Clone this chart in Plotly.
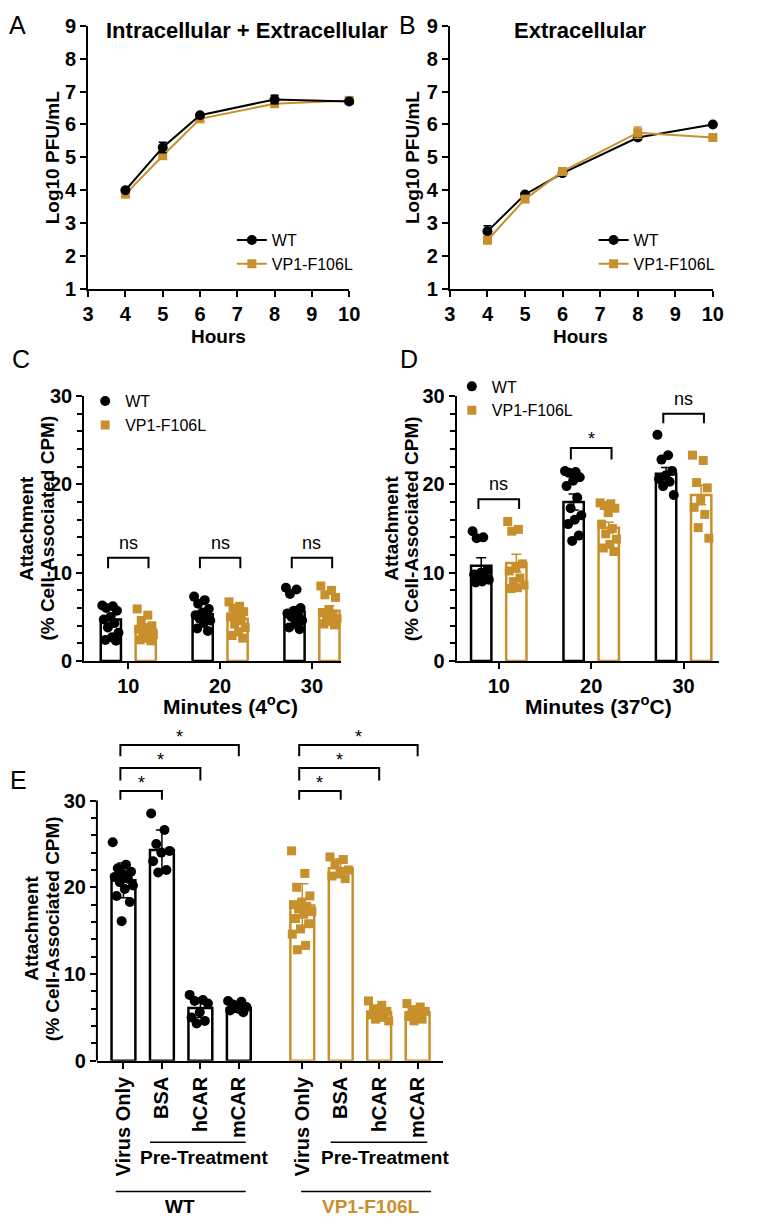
import plotly.graph_objects as go

W, H = 762, 1225
FONT = "Liberation Sans, Arial, Helvetica, sans-serif"
BLACK = "#000000"
GOLD = "#C8902C"

# ---------------- data ----------------
hours = [4, 5, 6, 8, 10]
a_wt = [4.0, 5.3, 6.28, 6.76, 6.7]
a_wt_err = [0.05, 0.16, 0.05, 0.13, 0.04]
a_mut = [3.88, 5.05, 6.17, 6.63, 6.73]
a_mut_err = [0.05, 0.08, 0.05, 0.05, 0.08]

b_wt = [2.75, 3.87, 4.52, 5.6, 6.0]
b_wt_err = [0.17, 0.05, 0.05, 0.05, 0.03]
b_mut = [2.48, 3.73, 4.57, 5.75, 5.6]
b_mut_err = [0.1, 0.05, 0.07, 0.17, 0.05]

minutes = ["10", "20", "30"]

c_wt_mean = [4.7, 5.3, 5.6]
c_wt_sem = [0.4, 0.3, 0.4]
c_mut_mean = [3.6, 4.8, 5.7]
c_mut_sem = [0.3, 0.4, 0.55]
c_wt_pts = [
    [6.3, 6.2, 6.0, 5.7, 5.0, 4.7, 4.3, 3.8, 3.2, 2.7, 2.4, 2.3],
    [7.3, 6.9, 6.5, 5.9, 5.5, 5.2, 5.0, 4.8, 4.6, 4.3, 3.7, 3.4],
    [8.3, 8.1, 7.6, 6.0, 5.7, 5.4, 5.2, 5.0, 4.6, 4.2, 3.8, 3.6],
]
c_mut_pts = [
    [5.9, 5.2, 4.6, 4.0, 3.8, 3.6, 3.5, 3.3, 3.0, 2.6, 2.4, 2.3],
    [6.7, 6.2, 6.0, 5.6, 5.3, 5.0, 4.6, 4.2, 3.8, 3.3, 2.9, 2.6],
    [8.5, 8.0, 7.5, 7.2, 5.8, 5.5, 5.3, 5.0, 4.8, 4.5, 4.2, 4.1],
]

d_wt_mean = [10.8, 18.0, 21.2]
d_wt_sem = [0.9, 0.9, 0.7]
d_mut_mean = [11.1, 15.1, 18.8]
d_mut_sem = [1.0, 0.6, 1.1]
d_wt_pts = [
    [14.7, 14.0, 13.9, 10.3, 10.0, 9.8, 9.6, 9.4, 9.2, 9.0, 8.9],
    [21.5, 21.4, 21.3, 20.8, 20.4, 19.8, 18.5, 17.3, 16.5, 16.0, 15.5, 14.2, 13.6],
    [25.6, 23.3, 22.8, 21.5, 21.0, 20.6, 20.3, 19.8, 18.8],
]
d_mut_pts = [
    [15.8, 14.9, 14.7, 11.0, 10.5, 10.2, 9.4, 9.0, 8.6, 8.3, 8.2],
    [17.9, 17.8, 17.6, 17.3, 16.8, 15.5, 15.0, 14.4, 13.8, 13.2, 12.8, 12.4],
    [23.3, 22.7, 20.2, 19.6, 18.3, 17.4, 16.6, 15.1, 13.9],
]

e_labels = ["Virus Only", "BSA", "hCAR", "mCAR"]
e_wt_mean = [20.8, 24.3, 6.1, 6.1]
e_wt_sd = [2.0, 2.3, 1.1, 0.5]
e_mut_mean = [17.9, 22.2, 5.6, 5.6]
e_mut_sd = [2.5, 1.1, 0.6, 0.6]
e_wt_pts = [
    [25.2, 22.6, 22.2, 21.8, 21.5, 21.2, 21.0, 20.6, 20.2, 19.8, 19.0, 18.3, 16.1],
    [28.5, 26.6, 25.0, 24.2, 24.0, 23.0, 22.0, 21.7],
    [7.6, 7.0, 6.9, 6.6, 5.6, 5.0, 4.6, 4.3],
    [6.9, 6.8, 6.5, 6.2, 6.0, 5.8, 5.6],
]
e_mut_pts = [
    [24.2, 21.6, 20.0, 19.0, 18.3, 18.0, 17.8, 17.5, 17.2, 16.9, 16.4, 15.8, 15.2, 14.6, 13.3, 12.8],
    [23.5, 23.2, 22.7, 22.0, 21.6, 21.3, 21.0],
    [6.9, 6.4, 6.0, 5.7, 5.5, 5.3, 5.0, 4.8, 4.6],
    [6.6, 6.2, 5.9, 5.7, 5.4, 5.1, 4.8, 4.6],
]

# ---------------- helpers (layout only) ----------------
def px(x):
    return x / W


def py(y):
    return 1 - y / H


def jitter(n, width):
    return [((k * 0.618034) % 1.0 - 0.5) * width for k in range(n)]


fig = go.Figure()

# ---------------- A & B : growth curves ----------------
for (wt, wte, mut, mute, xa, ya, lg, wt_last) in [
    (a_wt, a_wt_err, a_mut, a_mut_err, "x", "y", "legend", True),
    (b_wt, b_wt_err, b_mut, b_mut_err, "x2", "y2", "legend2", False),
]:
    wt_tr = go.Scatter(
        x=hours, y=wt, name="WT", mode="lines+markers",
        marker=dict(symbol="circle", size=10, color=BLACK),
        line=dict(color=BLACK, width=2),
        error_y=dict(type="data", array=wte, color=BLACK, thickness=1.5, width=4),
        xaxis=xa, yaxis=ya, legend=lg, legendrank=1, legendgroup="wt" + xa,
        cliponaxis=False,
    )
    mut_tr = go.Scatter(
        x=hours, y=mut, name="VP1-F106L", mode="lines+markers",
        marker=dict(symbol="square", size=9, color=GOLD),
        line=dict(color=GOLD, width=2),
        error_y=dict(type="data", array=mute, color=GOLD, thickness=1.5, width=4),
        xaxis=xa, yaxis=ya, legend=lg, legendrank=2, legendgroup="mut" + xa,
        cliponaxis=False,
    )
    if wt_last:
        fig.add_trace(mut_tr)
        fig.add_trace(wt_tr)
    else:
        fig.add_trace(wt_tr)
        fig.add_trace(mut_tr)

# ---------------- C & D : attachment time course ----------------
OFF = 0.19
BW = 0.22
for (wm, ws, mm, ms, wp, mp, xa, ya, lg) in [
    (c_wt_mean, c_wt_sem, c_mut_mean, c_mut_sem, c_wt_pts, c_mut_pts, "x3", "y3", "legend3"),
    (d_wt_mean, d_wt_sem, d_mut_mean, d_mut_sem, d_wt_pts, d_mut_pts, "x4", "y4", "legend4"),
]:
    xs = list(range(len(minutes)))
    fig.add_trace(go.Bar(
        x=[i - OFF for i in xs], y=wm, width=BW, showlegend=False,
        marker=dict(color="white", line=dict(color=BLACK, width=2.5)),
        error_y=dict(type="data", array=ws, color=BLACK, thickness=1.5, width=5),
        xaxis=xa, yaxis=ya,
    ))
    fig.add_trace(go.Bar(
        x=[i + OFF for i in xs], y=mm, width=BW, showlegend=False,
        marker=dict(color="white", line=dict(color=GOLD, width=2.5)),
        error_y=dict(type="data", array=ms, color=GOLD, thickness=1.5, width=5),
        xaxis=xa, yaxis=ya,
    ))
    wx, wy, mx, my = [], [], [], []
    for i in xs:
        for j, v in zip(jitter(len(wp[i]), BW * 0.85), wp[i]):
            wx.append(i - OFF + j)
            wy.append(v)
        for j, v in zip(jitter(len(mp[i]), BW * 0.85), mp[i]):
            mx.append(i + OFF + j)
            my.append(v)
    fig.add_trace(go.Scatter(
        x=wx, y=wy, mode="markers", name="WT",
        marker=dict(symbol="circle", size=10, color=BLACK),
        xaxis=xa, yaxis=ya, legend=lg, legendgroup="wt" + xa, legendrank=1,
        cliponaxis=False,
    ))
    fig.add_trace(go.Scatter(
        x=mx, y=my, mode="markers", name="VP1-F106L",
        marker=dict(symbol="square", size=9, color=GOLD),
        xaxis=xa, yaxis=ya, legend=lg, legendgroup="mut" + xa, legendrank=2,
        cliponaxis=False,
    ))

# ---------------- E : pre-treatment ----------------
EBW = 0.62
e_wt_x = [0, 1, 2, 3]
e_mut_x = [4.65, 5.65, 6.65, 7.65]
for (xsE, mean, sd, pts, col, sym) in [
    (e_wt_x, e_wt_mean, e_wt_sd, e_wt_pts, BLACK, "circle"),
    (e_mut_x, e_mut_mean, e_mut_sd, e_mut_pts, GOLD, "square"),
]:
    fig.add_trace(go.Bar(
        x=xsE, y=mean, width=EBW, showlegend=False,
        marker=dict(color="white", line=dict(color=col, width=2.5)),
        xaxis="x5", yaxis="y5",
    ))
    ex, ey = [], []
    for xc, p in zip(xsE, pts):
        for j, v in zip(jitter(len(p), EBW * 0.9), p):
            ex.append(xc + j)
            ey.append(v)
    fig.add_trace(go.Scatter(
        x=ex, y=ey, mode="markers", showlegend=False,
        marker=dict(symbol=sym, size=10 if sym == "circle" else 9, color=col),
        xaxis="x5", yaxis="y5", cliponaxis=False,
    ))
    fig.add_trace(go.Scatter(
        x=xsE, y=mean, mode="markers", showlegend=False,
        marker=dict(size=0.1, color=col, opacity=0),
        error_y=dict(type="data", array=sd, color=col, thickness=1.5, width=6),
        xaxis="x5", yaxis="y5", cliponaxis=False,
    ))

# ---------------- axes ----------------
tickfont = dict(family=FONT, size=20, color=BLACK, weight="bold")
common = dict(showline=True, linewidth=2, linecolor=BLACK, ticks="outside",
              ticklen=6, tickwidth=2, tickcolor=BLACK, showgrid=False,
              zeroline=False, tickfont=tickfont, fixedrange=True)

minor_c = dict(tickmode="array", tickvals=[v for v in range(2, 30, 2) if v % 10],
               ticks="outside", ticklen=5, tickwidth=2, tickcolor=BLACK, showgrid=False)

fig.update_layout(
    xaxis=dict(domain=[px(84), px(351)], range=[3, 10], dtick=1, tick0=3, anchor="y", **common),
    yaxis=dict(domain=[py(283), py(15)], range=[1, 9], dtick=1, tick0=1, anchor="x", **common),
    xaxis2=dict(domain=[px(454), px(723)], range=[3, 10], dtick=1, tick0=3, anchor="y2", **common),
    yaxis2=dict(domain=[py(283), py(15)], range=[1, 9], dtick=1, tick0=1, anchor="x2", **common),
    xaxis3=dict(domain=[px(80), px(343)], range=[-0.48, 2.32], tickmode="array",
                tickvals=[0, 1, 2], ticktext=minutes, anchor="y3", **common),
    yaxis3=dict(domain=[py(662), py(392)], range=[0, 30], tickmode="array",
                tickvals=[0, 10, 20, 30], minor=minor_c, anchor="x3", **common),
    xaxis4=dict(domain=[px(461), px(729)], range=[-0.455, 2.38], tickmode="array",
                tickvals=[0, 1, 2], ticktext=minutes, anchor="y4", **common),
    yaxis4=dict(domain=[py(662), py(392)], range=[0, 30], tickmode="array",
                tickvals=[0, 10, 20, 30], minor=minor_c, anchor="x4", **common),
    xaxis5=dict(domain=[px(93), px(447)], range=[-0.69, 8.31], tickmode="array",
                tickvals=e_wt_x + e_mut_x, ticktext=e_labels + e_labels, tickangle=-90,
                anchor="y5", **common),
)
common_e = dict(common)
common_e["showline"] = False
fig.update_layout(
    yaxis5=dict(domain=[py(1069), py(1069 - 39 * 265 / 30)], range=[0, 39], tickmode="array",
                tickvals=[0, 10, 20, 30], minor=minor_c, anchor="x5", **common_e),
)

shapes = []
# E y axis line (only up to 30)
shapes.append(dict(type="line", xref="x5 domain", yref="y5", x0=0, x1=0, y0=0, y1=30,
                   line=dict(color=BLACK, width=2)))


def bracket(xref, yref, x0, x1, ylo, yhi):
    return dict(type="path", xref=xref, yref=yref,
                path=f"M{x0},{ylo} L{x0},{yhi} L{x1},{yhi} L{x1},{ylo}",
                line=dict(color=BLACK, width=2))


annotations = []


def txt(x, y, text, size=18, bold=True, color=BLACK, xref="paper", yref="paper",
        angle=0, xanchor="center", yanchor="middle", yshift=0):
    annotations.append(dict(
        x=x, y=y, xref=xref, yref=yref, text=text, showarrow=False, textangle=angle,
        xanchor=xanchor, yanchor=yanchor, yshift=yshift,
        font=dict(family=FONT, size=size, color=color, weight="bold" if bold else "normal"),
    ))


# C brackets
for i in range(3):
    shapes.append(bracket("x3", "y3", i - OFF - 0.03, i + OFF + 0.03, 10.5, 11.7))
    txt(i, 11.7, "ns", size=18, bold=False, xref="x3", yref="y3", yanchor="bottom", yshift=3)
# D brackets
d_br = [(17.2, 18.3, "ns"), (22.8, 24.1, "*"), (26.9, 28.0, "ns")]
for i, (lo, hi, s) in enumerate(d_br):
    shapes.append(bracket("x4", "y4", i - OFF - 0.03, i + OFF + 0.03, lo, hi))
    txt(i, hi, s, size=18, bold=False, xref="x4", yref="y4", yanchor="bottom",
        yshift=3 if s == "ns" else -3)
# E brackets
e_br = [(30.1, 31.1), (32.3, 33.75), (35.1, 36.4)]
for xsE in (e_wt_x, e_mut_x):
    for k, (lo, hi) in enumerate(e_br):
        x0 = xsE[0] - 0.08
        x1 = xsE[k + 1]
        shapes.append(bracket("x5", "y5", x0, x1, lo, hi))
        txt((x0 + x1) / 2, hi, "*", size=18, bold=False, xref="x5", yref="y5",
            yanchor="bottom", yshift=-4)

# E group lines
shapes.append(dict(type="line", xref="x5", yref="paper", x0=0.69, x1=3.18, y0=py(1152), y1=py(1152),
                   line=dict(color=BLACK, width=1.5)))
shapes.append(dict(type="line", xref="x5", yref="paper", x0=-0.2, x1=3.18, y0=py(1202), y1=py(1202),
                   line=dict(color=BLACK, width=1.5)))
shapes.append(dict(type="line", xref="x5", yref="paper", x0=5.39, x1=7.9, y0=py(1152), y1=py(1152),
                   line=dict(color=BLACK, width=1.5)))
shapes.append(dict(type="line", xref="x5", yref="paper", x0=4.62, x1=8.0, y0=py(1202), y1=py(1202),
                   line=dict(color=BLACK, width=1.5)))
txt(2.1, py(1167), "Pre-Treatment", size=19, xref="x5")
txt(6.81, py(1167), "Pre-Treatment", size=19, xref="x5")
txt(1.48, py(1217), "WT", size=19, xref="x5")
txt(6.43, py(1217), "VP1-F106L", size=19, xref="x5", color=GOLD)

# panel letters
for (x, y, s) in [(12, 14, "A"), (411, 14, "B"), (15, 354, "C"), (412, 354, "D"), (13, 783, "E")]:
    txt(px(x), py(y), s, size=25, bold=False)

# titles
txt(px(246), py(20), "Intracellular + Extracellular", size=22)
txt(px(588), py(20), "Extracellular", size=22)
txt(px(217), py(331), "Hours", size=19)
txt(px(588), py(331), "Hours", size=19)
txt(px(47), py(149), "Log10 PFU/mL", size=19, angle=-90)
txt(px(416), py(149), "Log10 PFU/mL", size=19, angle=-90)
for (x1, x2, yc) in [(21, 42, 527), (394, 415, 527), (26, 47, 934)]:
    txt(px(x1), py(yc), "Attachment", size=19, angle=-90)
    txt(px(x2), py(yc), "(% Cell-Associated CPM)", size=19, angle=-90)
txt(px(230), py(707), "Minutes (4<sup>o</sup>C)", size=21)
txt(px(606), py(707), "Minutes (37<sup>o</sup>C)", size=21)

legfont = dict(family=FONT, size=16, color=BLACK)
legcommon = dict(xanchor="left", yanchor="top", font=legfont, bgcolor="rgba(0,0,0,0)",
                 traceorder="normal")

fig.update_layout(
    width=W, height=H, margin=dict(l=0, r=0, t=0, b=0),
    paper_bgcolor="white", plot_bgcolor="white", barmode="overlay",
    font=dict(family=FONT, color=BLACK),
    shapes=shapes, annotations=annotations, showlegend=True,
    legend=dict(x=px(231), y=py(216), tracegroupgap=4, **legcommon),
    legend2=dict(x=px(601), y=py(216), tracegroupgap=4, **legcommon),
    legend3=dict(x=px(81), y=py(380), tracegroupgap=7, **legcommon),
    legend4=dict(x=px(456), y=py(365), tracegroupgap=4, **legcommon),
)

fig.write_html(
    "out.html",
    config=dict(displayModeBar=False, staticPlot=True),
    post_script="document.body.style.margin='0';document.body.style.padding='0';"
                "document.documentElement.style.overflow='hidden';",
)
